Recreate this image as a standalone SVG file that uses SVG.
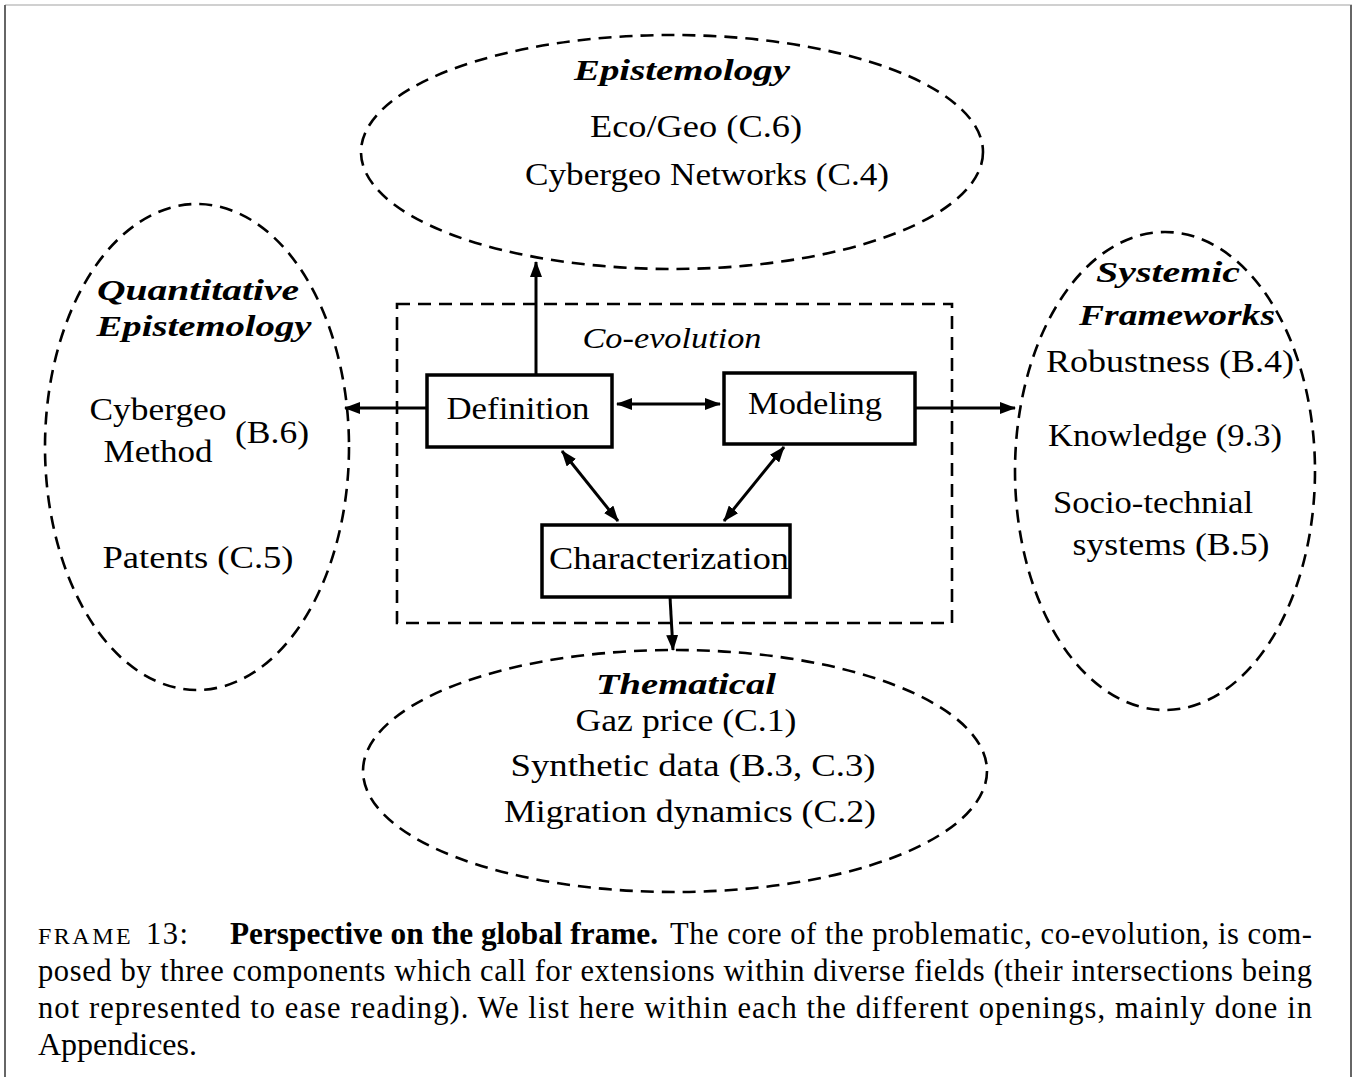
<svg xmlns="http://www.w3.org/2000/svg" width="1357" height="1077" viewBox="0 0 1357 1077">
<style>
.dash{fill:none;stroke:#000;stroke-width:2.6;stroke-dasharray:13 8}
.box{fill:#fff;stroke:#000;stroke-width:3.5}
.t{font-family:"Liberation Serif","DejaVu Serif",serif;font-size:32px;fill:#000}
.h{font-family:"Liberation Serif","DejaVu Serif",serif;font-size:29px;font-weight:bold;font-style:italic;fill:#000}
.it{font-family:"Liberation Serif","DejaVu Serif",serif;font-size:30px;font-style:italic;fill:#000}
.c{font-family:"Liberation Serif","DejaVu Serif",serif;font-size:30.5px;fill:#000}
.cn{stroke:#000;stroke-width:3;fill:none}
</style>
<defs>
<marker id="ah" markerUnits="userSpaceOnUse" markerWidth="16" markerHeight="12" refX="15" refY="6" orient="auto-start-reverse">
<path d="M0,0 L16,6 L0,12 z" fill="#000"/>
</marker>
</defs>
<rect width="1357" height="1077" fill="#fff"/>
<g id="frame">
<line x1="5" y1="5" x2="1352" y2="5" stroke="#d0d0d0" stroke-width="2"/>
<line x1="5" y1="5" x2="5" y2="1077" stroke="#666" stroke-width="2"/>
<line x1="1351" y1="5" x2="1351" y2="1077" stroke="#666" stroke-width="2"/>
</g>
<g id="epistemology">
<ellipse class="dash" cx="672" cy="152" rx="311" ry="117"/>
<text class="h" x="682" y="80" text-anchor="middle" textLength="216" lengthAdjust="spacingAndGlyphs">Epistemology</text>
<text class="t" x="696" y="137" text-anchor="middle" textLength="212" lengthAdjust="spacingAndGlyphs">Eco/Geo (C.6)</text>
<text class="t" x="707" y="185" text-anchor="middle" textLength="364" lengthAdjust="spacingAndGlyphs">Cybergeo Networks (C.4)</text>
</g>
<g id="quantitative">
<ellipse class="dash" cx="197" cy="447" rx="152" ry="243"/>
<text class="h" x="198" y="300" text-anchor="middle" textLength="202" lengthAdjust="spacingAndGlyphs">Quantitative</text>
<text class="h" x="204" y="336" text-anchor="middle" textLength="215" lengthAdjust="spacingAndGlyphs">Epistemology</text>
<text class="t" x="158" y="420" text-anchor="middle" textLength="137" lengthAdjust="spacingAndGlyphs">Cybergeo</text>
<text class="t" x="158" y="462" text-anchor="middle" textLength="109" lengthAdjust="spacingAndGlyphs">Method</text>
<text class="t" x="272" y="443" text-anchor="middle" textLength="74" lengthAdjust="spacingAndGlyphs">(B.6)</text>
<text class="t" x="198" y="568" text-anchor="middle" textLength="191" lengthAdjust="spacingAndGlyphs">Patents (C.5)</text>
</g>
<g id="systemic">
<ellipse class="dash" cx="1165" cy="471" rx="150" ry="239"/>
<text class="h" x="1168" y="282" text-anchor="middle" textLength="144" lengthAdjust="spacingAndGlyphs">Systemic</text>
<text class="h" x="1177" y="325" text-anchor="middle" textLength="196" lengthAdjust="spacingAndGlyphs">Frameworks</text>
<text class="t" x="1170" y="372" text-anchor="middle" textLength="248" lengthAdjust="spacingAndGlyphs">Robustness (B.4)</text>
<text class="t" x="1165" y="446" text-anchor="middle" textLength="234" lengthAdjust="spacingAndGlyphs">Knowledge (9.3)</text>
<text class="t" x="1153" y="513" text-anchor="middle" textLength="200" lengthAdjust="spacingAndGlyphs">Socio-technial</text>
<text class="t" x="1171" y="555" text-anchor="middle" textLength="197" lengthAdjust="spacingAndGlyphs">systems (B.5)</text>
</g>
<g id="thematical">
<ellipse class="dash" cx="675" cy="771" rx="312" ry="121"/>
<text class="h" x="686" y="694" text-anchor="middle" textLength="180" lengthAdjust="spacingAndGlyphs">Thematical</text>
<text class="t" x="686" y="731" text-anchor="middle" textLength="221" lengthAdjust="spacingAndGlyphs">Gaz price (C.1)</text>
<text class="t" x="693" y="776" text-anchor="middle" textLength="365" lengthAdjust="spacingAndGlyphs">Synthetic data (B.3, C.3)</text>
<text class="t" x="690" y="822" text-anchor="middle" textLength="372" lengthAdjust="spacingAndGlyphs">Migration dynamics (C.2)</text>
</g>
<g id="coevolution">
<rect class="dash" x="397" y="304" width="555" height="319"/>
<text class="it" x="672" y="348" text-anchor="middle" textLength="179" lengthAdjust="spacingAndGlyphs">Co-evolution</text>
</g>
<g id="connectors">
<line class="cn" x1="536" y1="375" x2="536" y2="262" marker-end="url(#ah)"/>
<line class="cn" x1="427" y1="408" x2="345" y2="408" marker-end="url(#ah)"/>
<line class="cn" x1="617" y1="404" x2="720" y2="404" marker-start="url(#ah)" marker-end="url(#ah)"/>
<line class="cn" x1="915" y1="408" x2="1015" y2="408" marker-end="url(#ah)"/>
<line class="cn" x1="562" y1="451" x2="618" y2="521" marker-start="url(#ah)" marker-end="url(#ah)"/>
<line class="cn" x1="784" y1="447" x2="724" y2="521" marker-start="url(#ah)" marker-end="url(#ah)"/>
<line class="cn" x1="670" y1="597" x2="673" y2="650" marker-end="url(#ah)"/>
</g>
<g id="definition">
<rect class="box" x="427" y="375" width="185" height="72"/>
<text class="t" x="518" y="419" text-anchor="middle" textLength="143" lengthAdjust="spacingAndGlyphs">Definition</text>
</g>
<g id="modeling">
<rect class="box" x="724" y="373" width="191" height="71"/>
<text class="t" x="815" y="414" text-anchor="middle" textLength="134" lengthAdjust="spacingAndGlyphs">Modeling</text>
</g>
<g id="characterization">
<rect class="box" x="542" y="525" width="248" height="72"/>
<text class="t" x="669" y="569" text-anchor="middle" textLength="240" lengthAdjust="spacingAndGlyphs">Characterization</text>
</g>
<g id="caption">
<text class="c" x="38" y="944" style="font-variant:small-caps;font-size:34px;letter-spacing:2.5px">frame</text>
<text class="c" x="146" y="944" style="letter-spacing:1.5px">13:</text>
<text class="c" x="230" y="944" font-weight="bold" textLength="428" lengthAdjust="spacingAndGlyphs">Perspective on the global frame.</text>
<text class="c" x="670" y="944" textLength="642" lengthAdjust="spacing">The core of the problematic, co-evolution, is com-</text>
<text class="c" x="38" y="981" textLength="1274" lengthAdjust="spacing">posed by three components which call for extensions within diverse fields (their intersections being</text>
<text class="c" x="38" y="1018" textLength="1274" lengthAdjust="spacing">not represented to ease reading). We list here within each the different openings, mainly done in</text>
<text class="c" x="38" y="1055" textLength="159" lengthAdjust="spacingAndGlyphs">Appendices.</text>
</g>
</svg>
